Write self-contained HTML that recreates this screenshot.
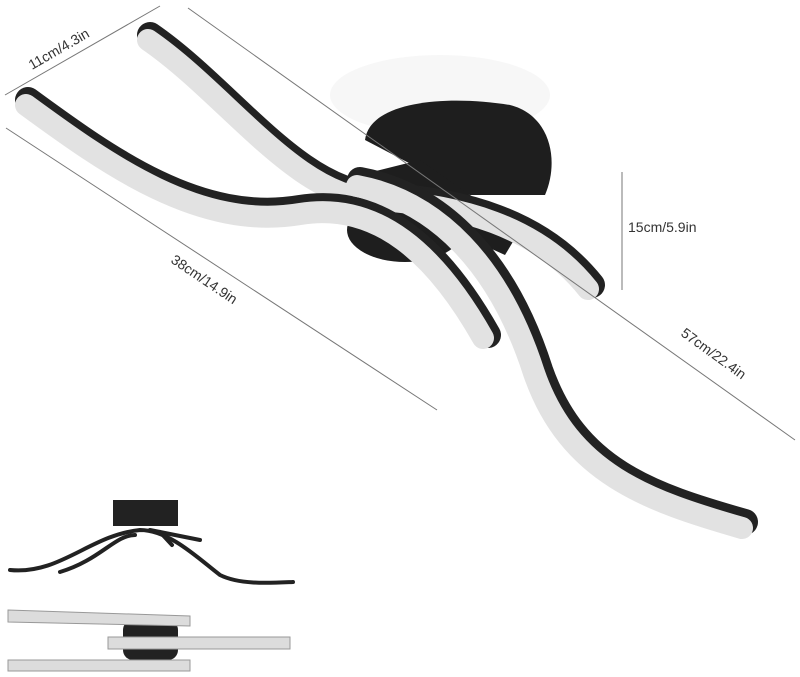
<!DOCTYPE html>
<html><head><style>
body{margin:0;background:#fff;}
svg{display:block}
text{font-family:"Liberation Sans",sans-serif;fill:#333;font-size:14px}
</style></head><body>
<svg width="800" height="677" viewBox="0 0 800 677">
<rect width="800" height="677" fill="#fff"/>
<ellipse cx="440" cy="95" rx="110" ry="40" fill="#f7f7f7"/>
<path d="M365,140 C370,100 450,95 510,105 C550,115 560,160 545,195 L470,195 Z" fill="#1e1e1e"/>
<ellipse cx="405" cy="230" rx="58" ry="32" fill="#1e1e1e"/>
<path d="M340,180 L420,160 L520,230 L505,255 Z" fill="#1e1e1e"/>
<g fill="none" stroke-linecap="round">
<path d="M150,35 C230,90 300,195 380,195 C460,200 540,220 592,285" stroke="#222" stroke-width="26"/>
<path d="M148,40 C228,95 298,200 378,200 C458,205 537,225 588,289" stroke="#e2e2e2" stroke-width="22"/>
<path d="M28,100 C110,160 200,225 300,208 C380,195 440,250 488,335" stroke="#222" stroke-width="26"/>
<path d="M26,105 C108,165 200,231 300,214 C378,201 436,255 483,338" stroke="#e2e2e2" stroke-width="22"/>
<path d="M360,180 C440,195 505,260 540,370 C575,470 650,495 745,522" stroke="#222" stroke-width="26"/>
<path d="M357,186 C436,201 499,264 534,373 C569,474 648,501 742,528" stroke="#e2e2e2" stroke-width="22"/>
</g>
<g stroke="#777" stroke-width="1">
<line x1="5" y1="95" x2="160" y2="6"/>
<line x1="188" y1="8" x2="795" y2="440"/>
<line x1="6" y1="128" x2="437" y2="410"/>
<line x1="622" y1="172" x2="622" y2="290"/>
</g>
<text transform="translate(32,70) rotate(-30)">11cm/4.3in</text>
<text transform="translate(170,262) rotate(34)">38cm/14.9in</text>
<text transform="translate(680,335) rotate(36)">57cm/22.4in</text>
<text x="628" y="232">15cm/5.9in</text>
<rect x="113" y="500" width="65" height="26" fill="#222"/>
<g fill="none" stroke="#222" stroke-width="4" stroke-linecap="round">
<path d="M10,570 C60,575 90,535 140,530 C170,530 200,560 220,575 C240,585 270,583 293,582"/>
<path d="M60,572 C100,560 115,535 135,535"/>
<path d="M150,530 L200,540"/>
<path d="M160,532 L172,545"/>
</g>
<rect x="123" y="620" width="55" height="40" rx="10" fill="#222"/>
<g fill="#dcdcdc" stroke="#999" stroke-width="1">
<path d="M8,610 L190,616 L190,626 L8,622 Z"/>
<rect x="108" y="637" width="182" height="12"/>
<rect x="8" y="660" width="182" height="11"/>
</g>
</svg>
</body></html>
